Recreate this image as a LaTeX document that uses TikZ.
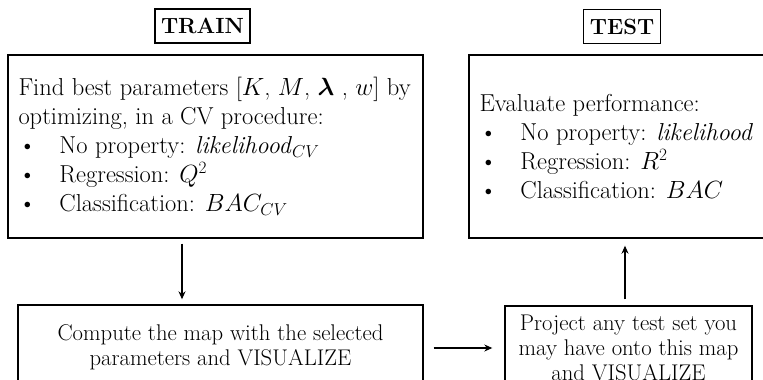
\documentclass[tikz,border=0pt]{standalone}
\usepackage{amsmath,amssymb,bm}
\usetikzlibrary{arrows.meta}

\newcommand{\bitem}[1]{\makebox[41pt][l]{\textbullet}#1}

\begin{document}
\begin{tikzpicture}[x=1pt, y=-1pt,
	frame/.style={draw, line width=1.4pt, inner sep=0pt},
	headbox/.style={draw, line width=1.2pt, font=\fontsize{22}{24}\selectfont\bfseries, minimum height=34pt, inner xsep=6pt},
	bigtext/.style={anchor=west, align=left, inner sep=0pt, font=\fontsize{24.5}{29}\selectfont},
	smalltext/.style={align=center, inner sep=0pt, font=\fontsize{22.7}{25}\selectfont},
	arr/.style={line width=1.2pt, -{Stealth[length=8pt, width=7pt]}}]
	\useasboundingbox (0,0) rectangle (763,380);
	% headings
	\node[headbox] (trainhead) at (202.5,26) {TRAIN};
	\node[headbox] (testhead) at (622,26.5) {TEST};
	% upper boxes
	\node[frame, minimum width=415pt, minimum height=183pt] (trainbox) at (215.5,146.5) {};
	\node[bigtext] (traintext) at ([xshift=11pt]trainbox.west) {Find best parameters [$K$, $M$, $\bm{\lambda}$ , $w$] by\\
		optimizing, in a CV procedure:\\
		\bitem{No property: \textit{likelihood}$_{CV}$}\\
		\bitem{Regression: $Q^2$}\\
		\bitem{Classification: $BAC_{CV}$}};
	\node[frame, minimum width=299pt, minimum height=183pt] (testbox) at (618.5,146.5) {};
	\node[bigtext] (testtext) at ([xshift=11pt]testbox.west) {Evaluate performance:\\
		\bitem{No property: \textit{likelihood}}\\
		\bitem{Regression: $R^2$}\\
		\bitem{Classification: $BAC$}};
	% lower boxes
	\node[frame, minimum width=405pt, minimum height=84pt] (mapbox) at (220.5,347) {};
	\node[smalltext] (maptext) at (mapbox.center) {Compute the map with the selected\\ parameters and VISUALIZE};
	\node[frame, minimum width=247pt, minimum height=84pt] (projbox) at (628.5,348) {};
	\node[smalltext] (projtext) at (projbox.center) {Project any test set you\\ may have onto this map\\ and VISUALIZE};
	% arrows
	\coordinate (downx) at (182,0);
	\coordinate (upx) at (625,0);
	\draw[arr, shorten <=5pt, shorten >=5pt] (trainbox.south -| downx) -- (mapbox.north -| downx);
	\draw[arr, shorten <=10pt, shorten >=12pt] (mapbox.east |- projbox.center) -- (projbox.west);
	\draw[arr, shorten <=6pt, shorten >=7pt] (projbox.north -| upx) -- (testbox.south -| upx);
\end{tikzpicture}
\end{document}
